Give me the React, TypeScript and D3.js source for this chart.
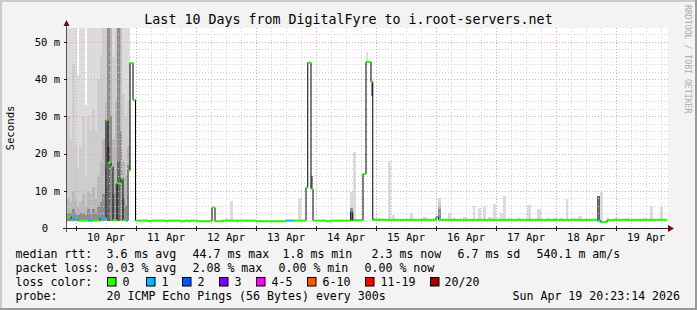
import React from 'react';
import * as d3 from 'd3';

// ---------- data ----------
const START = Date.UTC(2026, 3, 9, 20, 23, 14);
const END = Date.UTC(2026, 3, 19, 20, 23, 14);
const HOUR = 3600e3;
const Y_MAX = 53.7;

const titleText = 'Last 10 Days from DigitalFyre to i.root-servers.net';
const yAxisTitle = 'Seconds';
const yTickValues = [0, 10, 20, 30, 40, 50];
const yTickLabels = ['0', '10 m', '20 m', '30 m', '40 m', '50 m'];
const dayLabels = ['10 Apr', '11 Apr', '12 Apr', '13 Apr', '14 Apr', '15 Apr', '16 Apr', '17 Apr', '18 Apr', '19 Apr'];

// median runs: [start hour from chart start, median (ms), loss level index]
const medianRuns: [number, number, number][] = [
  [0, 3.1, 0], [1.6, 2.4, 1], [4.4, 2.0, 0], [8.4, 2.0, 1], [10.0, 2.0, 0],
  [13.2, 2.7, 1], [15.6, 29.0, 0], [16.4, 17.5, 0], [17.6, 16.5, 0], [18.4, 2.1, 0],
  [20.0, 12.0, 0], [21.6, 13.3, 0], [22.4, 2.1, 0], [23.6, 2.0, 1], [24.4, 15.4, 0],
  [25.2, 44.3, 0], [26.4, 34.4, 0], [27.4, 2.0, 0], [32.4, 1.8, 0], [33.6, 2.0, 0],
  [39.6, 1.8, 0], [40.4, 2.0, 0], [45.2, 1.8, 0], [47.2, 2.0, 0], [48.4, 1.8, 0],
  [49.6, 2.0, 0], [52.0, 1.8, 0], [58.0, 5.5, 0], [59.2, 1.8, 0], [62.4, 2.0, 0],
  [68.0, 1.8, 0], [68.4, 2.0, 0], [75.6, 1.8, 0], [87.6, 2.0, 1], [90.4, 2.0, 0],
  [95.6, 10.9, 0], [96.3, 44.4, 0], [97.6, 10.5, 0], [98.4, 2.0, 0], [103.6, 1.8, 0],
  [105.6, 2.0, 0], [113.5, 4.4, 1], [114.3, 2.1, 0], [118.4, 14.5, 0], [119.6, 44.6, 0],
  [121.6, 39.3, 0], [122.3, 2.2, 0], [147.6, 2.9, 1], [148.6, 2.2, 0], [212.0, 2.0, 1],
  [213.4, 1.6, 0], [216.0, 2.1, 0], [218.0, 2.2, 0],
];
const END_HOUR = 240;

// smoke: [start hour, end hour, low (ms), band tops (ms) from outer to inner...]
const smokeBars: number[][] = [
  [0, 1, 1.9, 54, 30, 8, 4], [1, 2, 1.9, 54, 24, 7, 4], [2, 3, 1.9, 54, 44, 10, 5],
  [3, 4, 1.9, 54, 22, 8, 4], [4, 5, 1.9, 41, 16, 6, 3.5], [5, 6, 1.9, 54, 22, 7, 4],
  [6, 7, 1.9, 54, 30, 9, 4], [7, 8, 1.9, 33, 14, 6, 3.5], [8, 9, 1.9, 54, 30, 10, 5],
  [9, 10, 1.9, 54, 26, 9, 4], [10, 11, 1.9, 54, 32, 11, 5], [11, 12, 1.9, 54, 26, 8, 4],
  [12, 13, 1.9, 54, 40, 14, 6], [13, 14, 1.9, 54, 46, 18, 7], [14, 15, 1.9, 54, 54, 24, 9],
  [15, 16, 1.9, 54, 54, 34, 16], [16, 17, 1.9, 54, 54, 54, 54, 22], [17, 18, 1.9, 54, 54, 54, 30],
  [18, 19, 1.9, 54, 46, 24, 9], [19, 20, 1.9, 54, 54, 34, 12], [20, 21, 1.9, 54, 54, 54, 54, 18],
  [21, 22, 1.9, 54, 54, 54, 26], [22, 23, 1.9, 54, 36, 18, 8], [23, 24, 1.9, 54, 30, 14, 6],
  [24, 25, 15.4, 54, 34, 22, 17],
  [63.6, 64.4, 2.0, 2.8], [65.2, 66.4, 2.0, 7.3], [92.4, 93.6, 2.0, 8.0],
  [97.6, 98.4, 10.5, 14, 14, 14, 14], [113.2, 114.4, 2.0, 9.7, 5.4, 5.4, 5.4],
  [114.4, 115.6, 2.1, 20.5], [119.6, 120.6, 44.6, 47.3], [121.6, 122.3, 35.4, 39.3, 39.3, 39.3, 39.3],
  [122.4, 125.2, 2.2, 2.6], [128.4, 129.6, 2.2, 18], [130, 131.2, 2.2, 3.5],
  [137.2, 138.4, 2.2, 4.0], [142.4, 144, 2.2, 3.0], [148.4, 149.6, 2.2, 8.0, 7, 6, 5],
  [152.4, 153.6, 2.2, 4.0], [154.4, 155.6, 2.2, 2.6], [158.4, 160, 2.2, 3.0],
  [162.4, 163.2, 2.2, 6.0], [164.4, 165.6, 2.2, 5.4], [166.4, 167.6, 2.2, 5.8],
  [168.4, 170, 2.2, 3.0], [170.4, 171.6, 2.2, 6.4], [173.2, 174.4, 2.2, 4.0],
  [174.4, 175.6, 2.2, 8.6], [176.4, 177.6, 2.2, 2.8], [180, 181.6, 2.2, 2.8],
  [184, 185.6, 2.2, 6.2], [188, 189.6, 2.2, 5.1], [192, 193.2, 2.2, 2.8],
  [194.4, 196, 2.2, 2.8], [197.2, 198.4, 2.2, 2.7], [199.6, 200.4, 2.2, 7.8],
  [201.6, 204, 2.2, 2.7], [204.4, 206, 2.2, 3.2], [212, 213.2, 2.0, 8.6, 8.6, 8.6, 8.6, 8.6],
  [213.2, 214.4, 1.6, 9.8], [216, 216.8, 2.1, 3.0], [219.2, 220.4, 2.2, 2.8],
  [223.2, 224.4, 2.2, 2.8], [230.4, 232, 2.2, 2.7], [233.2, 234.4, 2.2, 6.0],
  [237.2, 238.4, 2.2, 5.7],
];

const rowLabels = ['median rtt:', 'packet loss:', 'loss color:', 'probe:'];
const rttStats = ['3.6 ms avg', '44.7 ms max', '1.8 ms min', '2.3 ms now', '6.7 ms sd', '540.1 m am/s'];
const lossStats = ['0.03 % avg', '2.08 % max', '0.00 % min', '0.00 % now'];
const lossLevels = ['0', '1', '2', '3', '4-5', '6-10', '11-19', '20/20'];
const lossColors = ['#26ff00', '#00b8ff', '#0059ff', '#7e00ff', '#ff00ff', '#ff5500', '#ff0000', '#a10000'];
const probeText = '20 ICMP Echo Pings (56 Bytes) every 300s';
const dateText = 'Sun Apr 19 20:23:14 2026';
const watermark = 'RRDTOOL / TOBI OETIKER';

// ---------- layout ----------
const W = 697, H = 310;
const PL = 67, PR = 667, PT = 28, PB = 228;
const smokeShades = ['#dcdcdc', '#cdcdcd', '#b8b8b8', '#8e8e8e', '#666666'];
const MONO = "'DejaVu Sans Mono', monospace";
const rttX = [107, 193, 283, 372, 458, 537];
const lossX = [107, 193, 279, 365];
const boxX = [107, 146, 182, 219, 256, 307, 365, 430];
const boxTextX = [123, 162, 198, 235, 272, 323, 381, 445];
const rowY = [258, 272, 286, 300];

export default function App() {
  const x = d3.scaleUtc().domain([new Date(START), new Date(END)]).range([PL, PR]);
  const y = d3.scaleLinear().domain([0, Y_MAX]).range([PB, PT]);
  const hx = (h: number) => x(new Date(START + h * HOUR));

  const days = d3.utcDay.range(new Date(START), new Date(END));
  const sixes = d3.utcHour.every(6)!.range(new Date(START), new Date(END)).filter(d => d.getUTCHours() !== 0);
  const noons = days.map(d => new Date(+d + 12 * HOUR));
  const minorY = d3.range(2, Y_MAX, 2).filter(v => v % 10 !== 0);
  const majorY = yTickValues.filter(v => v > 0);

  const pts: [number, number][] = medianRuns.map(r => [hx(r[0]), y(r[1])]);
  pts.push([hx(END_HOUR), y(medianRuns[medianRuns.length - 1][1])]);
  const stepLine = d3.line().curve(d3.curveStepAfter)(pts) || '';

  return (
    <svg width={W} height={H} style={{ display: 'block', position: 'absolute', left: 0, top: 0 }} fontFamily={MONO}>
      <defs>
        <clipPath id="plotclip"><rect x={PL} y={PT} width={PR - PL + 1} height={PB - PT} /></clipPath>
      </defs>
      <rect x={0} y={0} width={W} height={H} fill="#f3f3f3" />
      <rect x={0} y={0} width={W} height={2} fill="#cbcbcb" />
      <rect x={0} y={0} width={2} height={H} fill="#cbcbcb" />
      <rect x={0} y={H - 2} width={W} height={2} fill="#999999" />
      <rect x={W - 2} y={0} width={2} height={H} fill="#999999" />
      <rect x={PL} y={PT} width={PR - PL + 1} height={PB - PT} fill="#ffffff" />

      <g clipPath="url(#plotclip)" shapeRendering="crispEdges">
        {smokeBars.map((b, i) => {
          const x0 = Math.round(hx(b[0]));
          const x1 = Math.round(hx(b[1]));
          const yb = Math.round(y(b[2]));
          return b.slice(3).map((top, k) => {
            const yt = Math.round(y(top));
            return <rect key={`s${i}-${k}`} x={x0} width={Math.max(1, x1 - x0)} y={yt} height={Math.max(0, yb - yt)} fill={smokeShades[k]} />;
          });
        })}
      </g>

      {/* grid */}
      <g shapeRendering="crispEdges">
        {sixes.map((d, i) => <line key={`gx${i}`} x1={Math.round(x(d)) + 0.5} x2={Math.round(x(d)) + 0.5} y1={PT} y2={PB} stroke="#cfcfcf" strokeDasharray="1,2" />)}
        {minorY.map((v, i) => <line key={`gy${i}`} x1={PL} x2={PR + 1} y1={Math.round(y(v)) + 0.5} y2={Math.round(y(v)) + 0.5} stroke="#cfcfcf" strokeDasharray="1,2" />)}
        {days.map((d, i) => <line key={`mx${i}`} x1={Math.round(x(d)) + 0.5} x2={Math.round(x(d)) + 0.5} y1={PT} y2={PB} stroke="#eaa6a6" strokeDasharray="1,2" />)}
        {majorY.map((v, i) => <line key={`my${i}`} x1={PL} x2={PR + 1} y1={Math.round(y(v)) + 0.5} y2={Math.round(y(v)) + 0.5} stroke="#eaa6a6" strokeDasharray="1,2" />)}
      </g>

      {/* median */}
      <g clipPath="url(#plotclip)">
        <path d={stepLine} fill="none" stroke="#000000" strokeWidth={1} />
        {medianRuns.map((r, i) => {
          const h1 = i + 1 < medianRuns.length ? medianRuns[i + 1][0] : END_HOUR;
          return <line key={`m${i}`} x1={hx(r[0])} x2={hx(h1)} y1={y(r[1])} y2={y(r[1])} stroke={lossColors[r[2]]} strokeWidth={2} />;
        })}
      </g>

      {/* axes */}
      <g shapeRendering="crispEdges">
        <line x1={PL - 4} x2={PR + 4} y1={PB + 0.5} y2={PB + 0.5} stroke="#1f1f1f" />
        <line x1={PL - 0.5} x2={PL - 0.5} y1={PB + 4} y2={PT - 4} stroke="#555555" />
        {days.map((d, i) => <line key={`tx${i}`} x1={Math.round(x(d)) + 0.5} x2={Math.round(x(d)) + 0.5} y1={PB - 2} y2={PB + 3} stroke="#1f1f1f" />)}
        {yTickValues.map((v, i) => <line key={`ty${i}`} x1={PL - 3} x2={PL} y1={Math.round(y(v)) + 0.5} y2={Math.round(y(v)) + 0.5} stroke="#1f1f1f" />)}
      </g>
      <path d={`M${PR + 1},${PB - 3} L${PR + 7},${PB + 0.5} L${PR + 1},${PB + 4} Z`} fill="#7f0000" />
      <path d={`M${PL - 3.5},${PT - 2} L${PL - 0.5},${PT - 8} L${PL + 2.5},${PT - 2} Z`} fill="#7f0000" />

      {/* axis labels */}
      {yTickValues.map((v, i) => (
        <text key={`yl${i}`} x={v === 0 ? 48 : 60} y={y(v) + 3.8} fontSize={10.5} textAnchor="end" fill="#000">{yTickLabels[i]}</text>
      ))}
      {noons.map((d, i) => (
        <text key={`xl${i}`} x={x(d)} y={241} fontSize={10.5} textAnchor="middle" fill="#000">{dayLabels[i]}</text>
      ))}
      <text transform={`translate(14,128) rotate(-90)`} fontSize={10.7} textAnchor="middle" fill="#000">{yAxisTitle}</text>
      <text x={348.5} y={24} fontSize={13.3} textAnchor="middle" fill="#000">{titleText}</text>
      <text transform={`translate(685,5) rotate(90)`} fontSize={8.2} fill="#ababab">{watermark}</text>

      {/* legend */}
      {rowLabels.map((t, i) => <text key={`rl${i}`} x={15.5} y={rowY[i]} fontSize={11.6} fill="#000">{t}</text>)}
      {rttStats.map((t, i) => <text key={`rs${i}`} x={rttX[i] - 0.5} y={rowY[0]} fontSize={11.6} fill="#000">{t}</text>)}
      {lossStats.map((t, i) => <text key={`ls${i}`} x={lossX[i] - 0.5} y={rowY[1]} fontSize={11.6} fill="#000">{t}</text>)}
      {lossLevels.map((t, i) => (
        <g key={`lc${i}`}>
          <rect x={boxX[i] + 0.5} y={277.5} width={8.5} height={8.5} fill={lossColors[i]} stroke="#000" strokeWidth={1} />
          <text x={boxTextX[i] - 0.5} y={rowY[2]} fontSize={11.6} fill="#000">{t}</text>
        </g>
      ))}
      <text x={106.5} y={rowY[3]} fontSize={11.6} fill="#000">{probeText}</text>
      <text x={512.5} y={rowY[3]} fontSize={11.6} fill="#000">{dateText}</text>
    </svg>
  );
}
